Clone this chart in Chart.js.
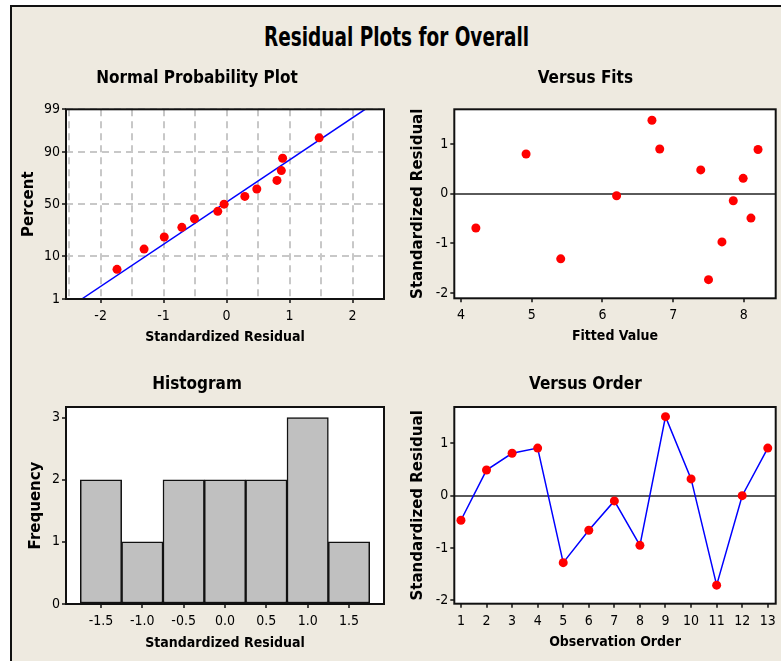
<!DOCTYPE html>
<html><head><meta charset="utf-8">
<script src="https://cdn.jsdelivr.net/npm/chart.js@4/dist/chart.umd.min.js"></script>
<style>
html,body{margin:0;padding:0;background:#fff;width:781px;height:661px;overflow:hidden;}
#frame{position:absolute;left:10px;top:5px;width:771px;height:656px;background:#EEEAE0;border-left:2px solid #111;border-top:2px solid #111;box-sizing:border-box;}
#title{position:absolute;left:10px;top:21px;width:771px;height:32px;line-height:32px;text-align:center;font-weight:bold;font-size:27px;font-family:'DejaVu Sans Condensed','Liberation Sans Narrow',sans-serif;color:#000;transform:scaleX(0.76);transform-origin:390px 16px;}
.c{position:absolute;}
canvas{display:block;}
</style></head><body>
<div id="frame"></div>
<div id="title">Residual Plots for Overall</div>
<div class="c" style="left:10px;top:58px"><canvas id="c1" width="385" height="302"></canvas></div>
<div class="c" style="left:395px;top:58px"><canvas id="c2" width="386" height="302"></canvas></div>
<div class="c" style="left:10px;top:360px"><canvas id="c3" width="385" height="300"></canvas></div>
<div class="c" style="left:395px;top:360px"><canvas id="c4" width="386" height="300"></canvas></div>
<script>
// ---------- data ----------
// Normal probability plot
const nppResidual = [-1.74, -1.31, -0.99, -0.71, -0.51, -0.14, -0.04, 0.29, 0.48, 0.80, 0.87, 0.89, 1.47];
const nppPercent  = [5.5, 13.5, 21, 28.5, 36, 43, 50, 57.5, 64.5, 72, 79.5, 87, 94.8];
const nppLineResidual = [-2.30, 2.20];
const nppLinePercent  = [1, 99];
const nppXTicks = [-2.5, -2, -1.5, -1, -0.5, 0, 0.5, 1, 1.5, 2, 2.5];
const nppYTicks = [1, 10, 50, 90, 99];
// Versus fits
const fitsFitted   = [4.21, 4.92, 5.41, 6.20, 6.70, 6.81, 7.39, 7.50, 7.69, 7.85, 7.99, 8.10, 8.20];
const fitsResidual = [-0.69, 0.80, -1.31, -0.04, 1.48, 0.90, 0.48, -1.73, -0.97, -0.14, 0.31, -0.49, 0.89];
const fitsXTicks = [4, 5, 6, 7, 8];
const resYTicks  = [-2, -1, 0, 1];
// Histogram
const histMid  = [-1.5, -1.0, -0.5, 0.0, 0.5, 1.0, 1.5];
const histFreq = [2, 1, 2, 2, 2, 3, 1];
const histYTicks = [0, 1, 2, 3];
// Versus order
const orderObs      = [1, 2, 3, 4, 5, 6, 7, 8, 9, 10, 11, 12, 13];
const orderResidual = [-0.47, 0.49, 0.81, 0.91, -1.28, -0.66, -0.10, -0.95, 1.51, 0.32, -1.71, 0.00, 0.91];

// ---------- helpers ----------
const NARROW = "'DejaVu Sans Condensed','Liberation Sans Narrow',sans-serif";
const WIDE = "'DejaVu Sans',Verdana,sans-serif";

// inverse standard normal CDF (axis transform for the probability scale)
function probit(p){
  const a=[-3.969683028665376e+01,2.209460984245205e+02,-2.759285104469687e+02,1.383577518672690e+02,-3.066479806614716e+01,2.506628277459239e+00];
  const b=[-5.447609879822406e+01,1.615858368580409e+02,-1.556989798598866e+02,6.680131188771972e+01,-1.328068155288572e+01];
  const c=[-7.784894002430293e-03,-3.223964580411365e-01,-2.400758277161838e+00,-2.549671348382815e+00,4.374664141464968e+00,2.938163982698783e+00];
  const d=[7.784695709041462e-03,3.224671290700398e-01,2.445134137142996e+00,3.754408661907416e+00];
  const pl=0.02425, ph=1-pl; let q,r;
  if(p<pl){q=Math.sqrt(-2*Math.log(p));return (((((c[0]*q+c[1])*q+c[2])*q+c[3])*q+c[4])*q+c[5])/((((d[0]*q+d[1])*q+d[2])*q+d[3])*q+1);}
  if(p<=ph){q=p-0.5;r=q*q;return (((((a[0]*r+a[1])*r+a[2])*r+a[3])*r+a[4])*r+a[5])*q/(((((b[0]*r+b[1])*r+b[2])*r+b[3])*r+b[4])*r+1);}
  q=Math.sqrt(-2*Math.log(1-p));return -(((((c[0]*q+c[1])*q+c[2])*q+c[3])*q+c[4])*q+c[5])/((((d[0]*q+d[1])*q+d[2])*q+d[3])*q+1);
}

const framePlugin = {
  id:'frame',
  beforeDraw(chart){
    const {ctx, chartArea:a} = chart;
    ctx.save(); ctx.fillStyle='#fff'; ctx.fillRect(a.left,a.top,a.right-a.left,a.bottom-a.top); ctx.restore();
  },
  afterDraw(chart){
    const {ctx, chartArea:a} = chart;
    ctx.save(); ctx.strokeStyle='#111'; ctx.lineWidth=2;
    ctx.strokeRect(a.left,a.top,a.right-a.left,a.bottom-a.top); ctx.restore();
  }
};

function titleOpts(text, pt, pb){
  return {display:true, text, color:'#000', font:{family:NARROW, size:17, weight:'bold', lineHeight:1.2}, padding:{top:pt,bottom:pb}};
}

function xScale(o){
  return {
    type:'linear', position:'bottom', min:o.min, max:o.max, offset:false,
    afterFit: s => { s.height = o.h; },
    afterBuildTicks: s => { s.ticks = o.ticks.map(v=>({value:v})); },
    ticks:{ autoSkip:false, maxRotation:0, minRotation:0, padding:5, color:'#000',
      font:{family:NARROW, size:14, lineHeight:1.2},
      callback:o.label },
    grid:{ offset:false, drawOnChartArea: !!o.grid, color: o.gridColor || 'rgba(0,0,0,0)', lineWidth: 2,
      tickLength:4, tickWidth:1.5, tickColor: o.tickColor || '#111' },
    border:{ display:false, dash: o.dash || [] },
    title:{ display:true, text:o.title, color:'#000', font:{family:NARROW, size:14, weight:'bold', lineHeight:1.2}, padding:{top:0,bottom:o.tpb} }
  };
}
function yScale(o){
  return {
    type:'linear', position:'left', min:o.min, max:o.max,
    afterFit: s => { s.width = o.w; },
    afterBuildTicks: s => { s.ticks = o.ticks.map(v=>({value:v})); },
    ticks:{ autoSkip:false, padding:2, color:'#000',
      font:{family:NARROW, size:14, lineHeight:1.2},
      callback:o.label },
    grid:{ drawOnChartArea: !!o.grid, color: o.gridColor || 'rgba(0,0,0,0)', lineWidth: 2,
      tickLength:4, tickWidth:1.5, tickColor:'#111' },
    border:{ display:false, dash: o.dash || [] },
    title:{ display:true, text:o.title, color:'#000', font:{family:WIDE, size:15, weight:'bold', lineHeight:1.2}, padding:{top:o.tpt,bottom:0} }
  };
}
function baseOptions(){
  return { responsive:false, animation:false, events:[],
    plugins:{ legend:{display:false}, tooltip:{enabled:false} } };
}
const redPoint = {pointRadius:4.5, pointBackgroundColor:'#FF0000', pointBorderWidth:0, pointBorderColor:'#FF0000'};

// ---------- 1. Normal probability plot ----------
(function(){
  const zTicks = nppYTicks.map(p=>probit(p/100));
  const opt = baseOptions();
  opt.layout = {padding:{left:0,right:11,top:0,bottom:0}};
  opt.plugins.title = titleOpts('Normal Probability Plot', 10.8, 20.1);
  opt.scales = {
    x: xScale({min:-2.55, max:2.5, h:61, ticks:nppXTicks, grid:true, gridColor:'#C8C8C8', dash:[7,5],
      tickColor: c => Number.isInteger(c.tick.value) ? '#111' : 'rgba(0,0,0,0)',
      label: v => Number.isInteger(v) ? String(v) : '', title:'Standardized Residual', tpb:14.1}),
    y: yScale({min:probit(0.01), max:probit(0.99), w:56, ticks:zTicks, grid:true, gridColor:'#C8C8C8', dash:[7,5],
      label: (v,i) => String(nppYTicks[i]), title:'Percent', tpt:10.3})
  };
  new Chart(document.getElementById('c1'), {
    type:'scatter',
    data:{ datasets:[
      { type:'line', data: nppLineResidual.map((x,i)=>({x, y:probit(nppLinePercent[i]/100)})),
        borderColor:'#0000FF', borderWidth:1.5, pointRadius:0, fill:false, order:2 },
      Object.assign({ data: nppResidual.map((x,i)=>({x, y:probit(nppPercent[i]/100)})), order:1 }, redPoint)
    ]},
    options:opt, plugins:[framePlugin]
  });
})();

// ---------- 2. Versus fits ----------
(function(){
  const opt = baseOptions();
  opt.layout = {padding:{left:0,right:5.3,top:0,bottom:0}};
  opt.plugins.title = titleOpts('Versus Fits', 10.8, 20.1);
  opt.scales = {
    x: xScale({min:3.905, max:8.45, h:61.7, ticks:fitsXTicks, label: v => String(v), title:'Fitted Value', tpb:14.9}),
    y: yScale({min:-2.105, max:1.70, w:59.3, ticks:resYTicks, grid:true,
      gridColor: c => c.tick && c.tick.value === 0 ? '#5A5A5A' : 'rgba(0,0,0,0)',
      label: v => String(v), title:'Standardized Residual', tpt:14.3})
  };
  new Chart(document.getElementById('c2'), {
    type:'scatter',
    data:{ datasets:[ Object.assign({ data: fitsFitted.map((x,i)=>({x, y:fitsResidual[i]})) }, redPoint) ]},
    options:opt, plugins:[framePlugin]
  });
})();

// ---------- 3. Histogram ----------
(function(){
  const opt = baseOptions();
  opt.layout = {padding:{left:0,right:11,top:0,bottom:0}};
  opt.plugins.title = titleOpts('Histogram', 14.8, 11.8);
  opt.scales = {
    x: xScale({min:-1.923, max:1.923, h:56, ticks:histMid, label: v => v.toFixed(1), title:'Standardized Residual', tpb:8.3}),
    y: yScale({min:0, max:3.17, w:56, ticks:histYTicks, label: v => String(v), title:'Frequency', tpt:16.7})
  };
  new Chart(document.getElementById('c3'), {
    type:'bar',
    data:{ datasets:[{ data: histMid.map((x,i)=>({x, y:histFreq[i]})),
      backgroundColor:'#C0C0C0', borderColor:'#111', borderWidth:1.5,
      barPercentage:1, categoryPercentage:1, borderSkipped:false }]},
    options:opt, plugins:[framePlugin]
  });
})();

// ---------- 4. Versus order ----------
(function(){
  const opt = baseOptions();
  opt.layout = {padding:{left:0,right:5.3,top:0,bottom:0}};
  opt.plugins.title = titleOpts('Versus Order', 14.8, 11.8);
  opt.scales = {
    x: xScale({min:0.74, max:13.31, h:56.3, ticks:orderObs, label: v => String(v), title:'Observation Order', tpb:8.9}),
    y: yScale({min:-2.065, max:1.695, w:59.3, ticks:resYTicks, grid:true,
      gridColor: c => c.tick && c.tick.value === 0 ? '#5A5A5A' : 'rgba(0,0,0,0)',
      label: v => String(v), title:'Standardized Residual', tpt:14.3})
  };
  new Chart(document.getElementById('c4'), {
    type:'line',
    data:{ datasets:[ Object.assign({ data: orderObs.map((x,i)=>({x, y:orderResidual[i]})),
      borderColor:'#0000FF', borderWidth:1.5, fill:false, tension:0 }, redPoint) ]},
    options:opt, plugins:[framePlugin]
  });
})();
</script>
</body></html>
